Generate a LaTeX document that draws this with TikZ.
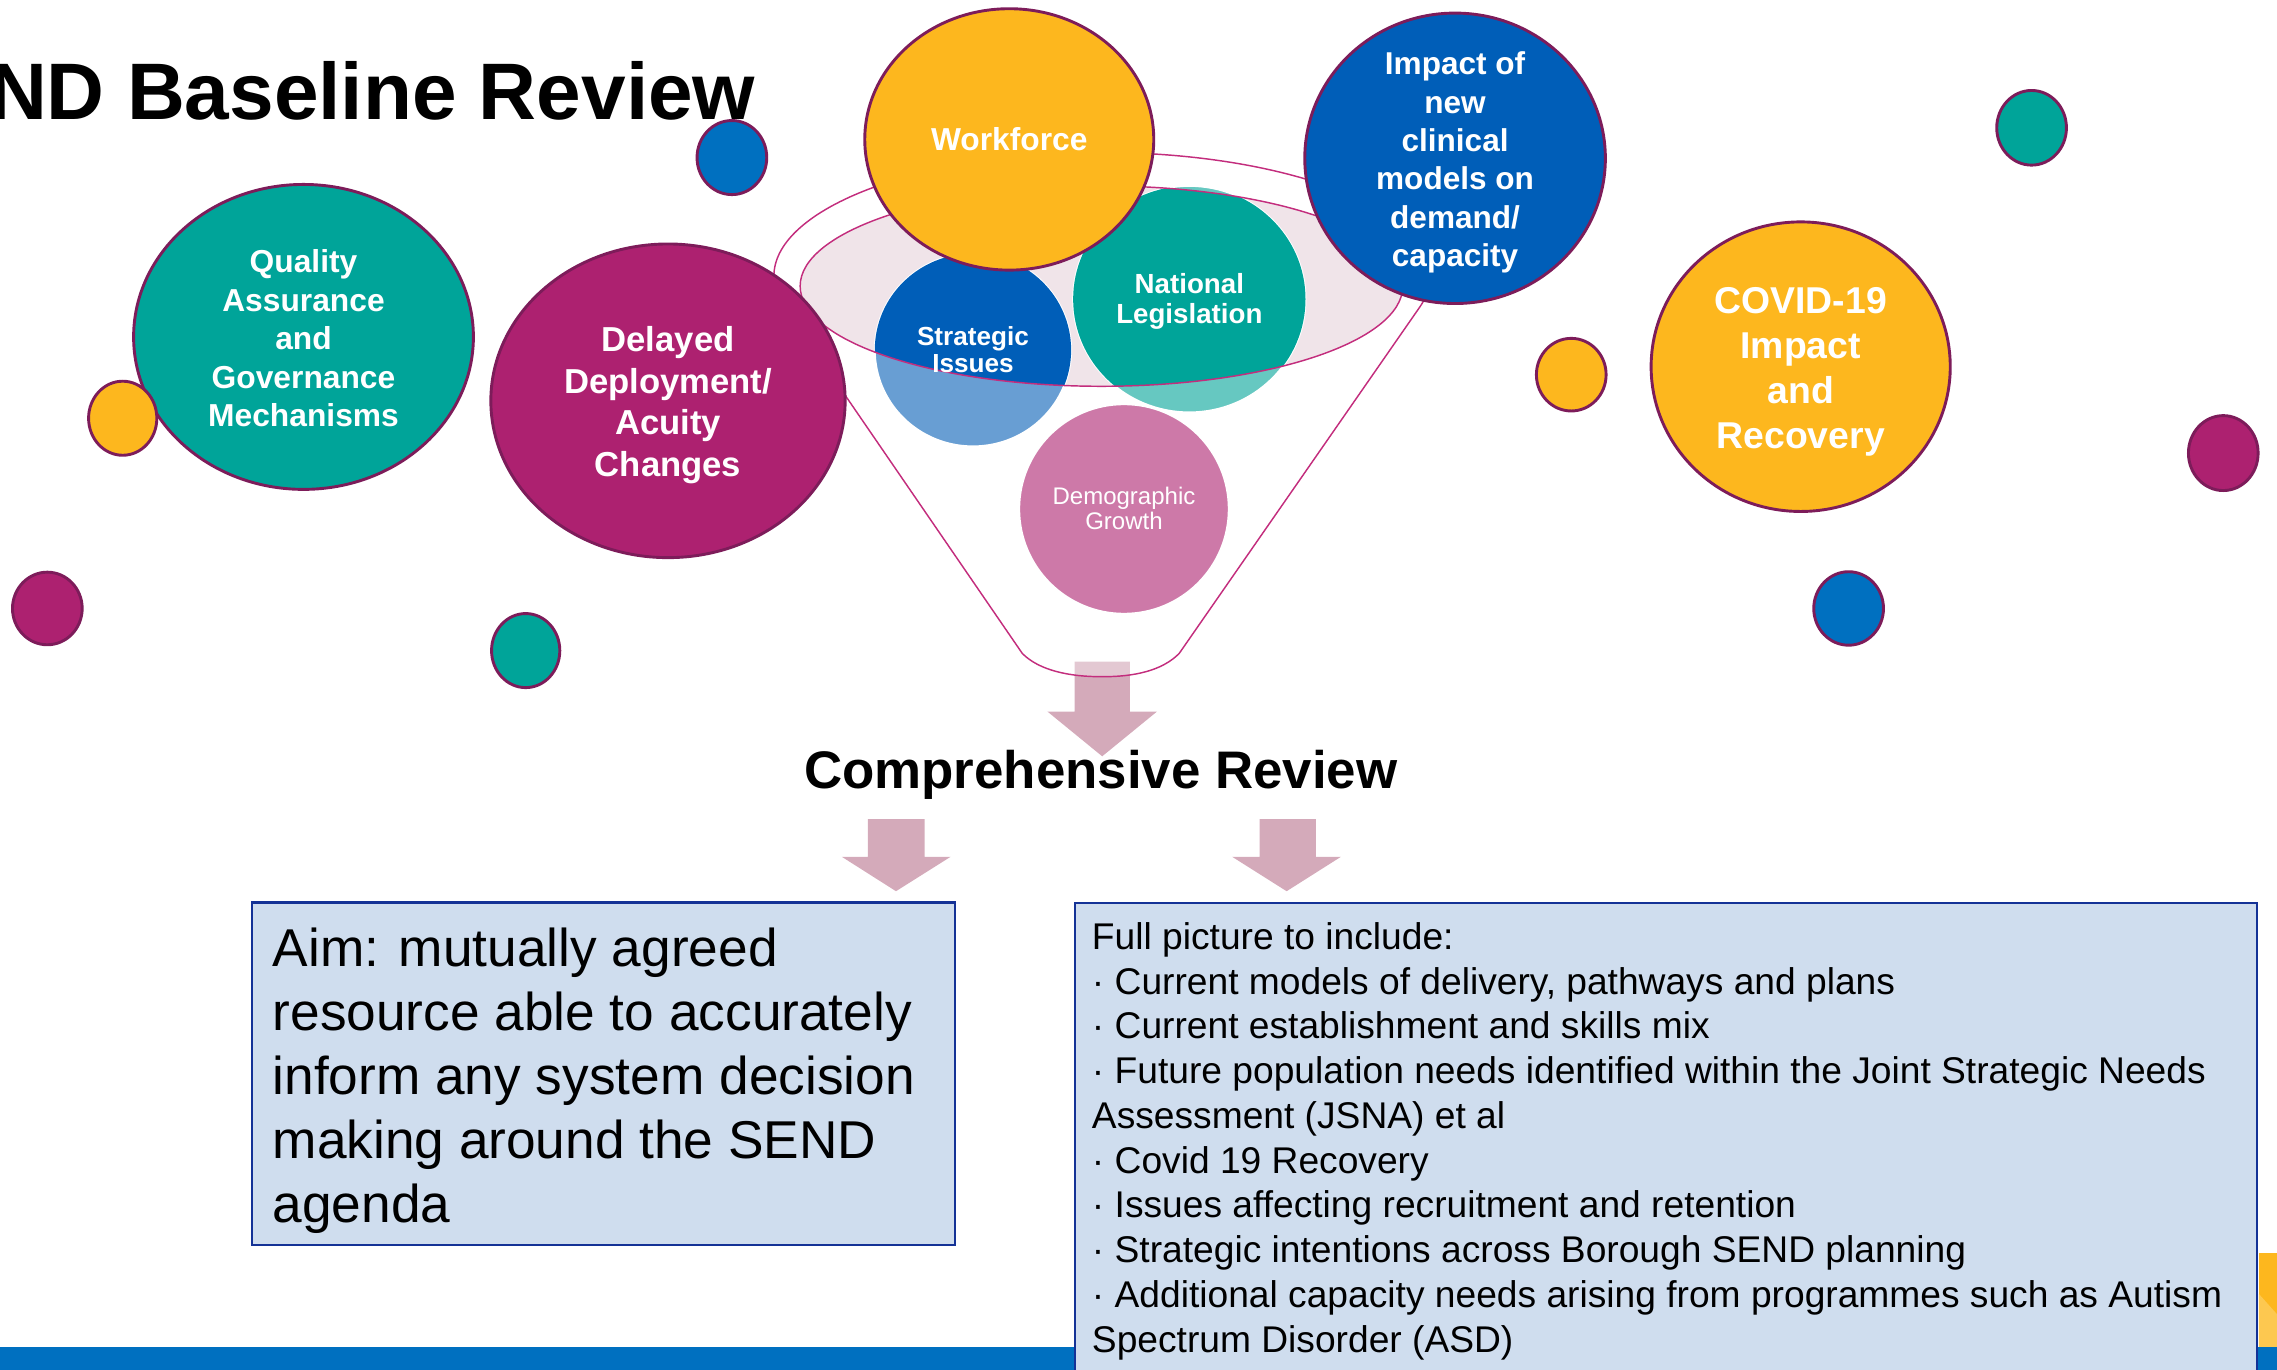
\documentclass[tikz,border=0pt]{standalone}
\usepackage{fontspec}
\setmainfont{Liberation Sans}
\usepackage{tikz}

\definecolor{sunYellow}{RGB}{253,183,30}
\definecolor{paleSun}{RGB}{253,200,80}
\definecolor{nhsTeal}{RGB}{0,164,153}
\definecolor{paleTeal}{RGB}{102,200,193}
\definecolor{plum}{RGB}{173,33,112}
\definecolor{deepBlue}{RGB}{0,94,184}
\definecolor{paleBlue}{RGB}{104,158,211}
\definecolor{dotBlue}{RGB}{0,112,192}
\definecolor{rosePink}{RGB}{205,121,168}
\definecolor{rimLine}{RGB}{125,28,90}
\definecolor{funnelLine}{RGB}{195,45,125}
\definecolor{funnelFill}{RGB}{240,228,233}
\definecolor{arrowPink}{RGB}{212,170,186}
\definecolor{boxFill}{RGB}{207,221,238}
\definecolor{boxLine}{RGB}{20,50,150}

\begin{document}
\begin{tikzpicture}[x=0.75pt,y=0.75pt,yscale=-1,xscale=1,
  bubble/.style={draw=rimLine,line width=1.5},
  spot/.style={draw=rimLine,line width=1.5},
  rim/.style={draw=funnelLine,line width=0.75},
  blockarrow/.style={fill=arrowPink},
  infobox/.style={fill=boxFill,draw=boxLine,line width=1.2},
  bubbletext/.style={text=white,align=center,inner sep=0.75pt}]
\useasboundingbox (0,0) rectangle (1568,943.4);

%Shape: bottom bar
\fill [dotBlue] (0,927.4) rectangle (1568,943.4);
\fill [sunYellow] (1555.5,863.1) rectangle (1568,927.4);
\fill [paleSun] (1555.5,891) -- (1568,905) -- (1568,927.4) -- (1555.5,927.4) -- cycle;

%Shape: arrow out of the funnel
\fill [blockarrow] (740,455.6) -- (778,455.6) -- (778,490) -- (796.7,490) -- (759,520.8) -- (721.3,490) -- (740,490) -- cycle;

%Shape: funnel
\draw [rim,fill=white,fill opacity=0.36] (540.7,212) arc[start angle=165,end angle=375,x radius=226,y radius=85] -- (812,450) .. controls (800,462) and (781,466) .. (759,466) .. controls (737,466) and (716,462) .. (704,450) -- cycle;
\fill [funnelFill] (758.5,197) ellipse [x radius=207.5,y radius=69];

%Shape: circles in the funnel
\draw [white,line width=1,fill=paleBlue] (670,241) ellipse [x radius=67.6,y radius=66.4];
\draw [white,line width=1,fill=paleTeal] (819,206) ellipse [x radius=80,y radius=78];
\begin{scope}
\clip (758.5,197) ellipse [x radius=207.5,y radius=69];
\fill [deepBlue] (670,241) ellipse [x radius=67.6,y radius=66.4];
\fill [nhsTeal] (819,206) ellipse [x radius=80,y radius=78];
\end{scope}
\draw [rim] (758.5,197) ellipse [x radius=207.5,y radius=69];
\draw [white,line width=0.75,fill=rosePink] (774,350.5) ellipse [x radius=72,y radius=72];

%Shape: big circles
\draw [bubble,fill=sunYellow] (695,96) ellipse [x radius=99.5,y radius=90];
\draw [bubble,fill=deepBlue] (1002,109) ellipse [x radius=103.5,y radius=100];
\draw [bubble,fill=nhsTeal] (209,232) ellipse [x radius=117,y radius=105];
\draw [bubble,fill=plum] (460,276) ellipse [x radius=122,y radius=108];
\draw [bubble,fill=sunYellow] (1240,252.5) ellipse [x radius=103,y radius=99.7];

%Shape: small dots
\draw [spot,fill=sunYellow] (84.5,288) ellipse [x radius=23.5,y radius=25.5];
\draw [spot,fill=plum] (32.6,419) ellipse [x radius=24,y radius=25];
\draw [spot,fill=nhsTeal] (362,448) ellipse [x radius=23.5,y radius=25.5];
\draw [spot,fill=dotBlue] (504,108.5) ellipse [x radius=24,y radius=25.5];
\draw [spot,fill=sunYellow] (1082,258) ellipse [x radius=24,y radius=25];
\draw [spot,fill=nhsTeal] (1399,88) ellipse [x radius=24,y radius=25.7];
\draw [spot,fill=plum] (1531,312) ellipse [x radius=24,y radius=25.8];
\draw [spot,fill=dotBlue] (1273,419) ellipse [x radius=24,y radius=25.3];

%Shape: arrows to the boxes
\fill [blockarrow] (597.6,564) -- (636.7,564) -- (636.7,590) -- (654.6,590) -- (617,613.7) -- (579.7,590) -- (597.6,590) -- cycle;
\fill [blockarrow] (867.4,564) -- (906.2,564) -- (906.2,590) -- (923.4,590) -- (886,613.7) -- (848.5,590) -- (867.4,590) -- cycle;

%Shape: boxes
\draw [infobox] (173.5,621.5) rectangle (657.5,857.5);
\draw [infobox] (740.3,622) rectangle (1554.4,950);

% Text Node
\draw (-7.8,82) node [anchor=base west][inner sep=0pt] (title) {\fontsize{41.4}{48}\selectfont\bfseries ND Baseline Review};
% Text Node
\draw (695,96) node [bubbletext,font=\bfseries\fontsize{16.4}{19.8}\selectfont] (workforce) {Workforce};
% Text Node
\draw (1002,112) node [bubbletext,font=\bfseries\fontsize{16.3}{19.8}\selectfont] (impact) {Impact of\\new\\clinical\\models on\\demand/\\capacity};
% Text Node
\draw (209,233) node [bubbletext,font=\bfseries\fontsize{16.4}{19.9}\selectfont] (quality) {Quality\\Assurance\\and\\Governance\\Mechanisms};
% Text Node
\draw (460,279) node [bubbletext,font=\bfseries\fontsize{17.9}{21.5}\selectfont] (delayed) {Delayed\\Deployment/\\Acuity\\Changes};
% Text Node
\draw (1240,256) node [bubbletext,font=\bfseries\fontsize{19.3}{23.25}\selectfont] (covid) {COVID-19\\Impact\\and\\Recovery};
% Text Node
\draw (819,207.5) node [bubbletext,font=\bfseries\fontsize{14.3}{15.6}\selectfont] (national) {National\\Legislation};
% Text Node
\draw (670,240.5) node [bubbletext,font=\bfseries\fontsize{13.5}{13.9}\selectfont] (strategic) {Strategic\\Issues};
% Text Node
\draw (774,350) node [bubbletext,font=\fontsize{12.4}{12.9}\selectfont] (demographic) {Demographic\\Growth};
% Text Node
\draw (758,543) node [anchor=base][inner sep=0pt] (review) {\fontsize{27.3}{32}\selectfont\bfseries Comprehensive Review};
% Text Node
\draw (186.5,637.9) node [anchor=north west][inner sep=0.75pt][align=left,font=\fontsize{27.5}{33}\selectfont] (aim) {Aim: mutually agreed\\resource able to accurately\\inform any system decision\\making around the SEND\\agenda};
% Text Node
\draw (750.7,634) node [anchor=north west][inner sep=0.75pt][align=left,font=\fontsize{19.2}{23.1}\selectfont] (picture) {Full picture to include:\\· Current models of delivery, pathways and plans\\· Current establishment and skills mix\\· Future population needs identified within the Joint Strategic Needs\\Assessment (JSNA) et al\\· Covid 19 Recovery\\· Issues affecting recruitment and retention\\· Strategic intentions across Borough SEND planning\\· Additional capacity needs arising from programmes such as Autism\\Spectrum Disorder (ASD)};

\end{tikzpicture}
\end{document}
